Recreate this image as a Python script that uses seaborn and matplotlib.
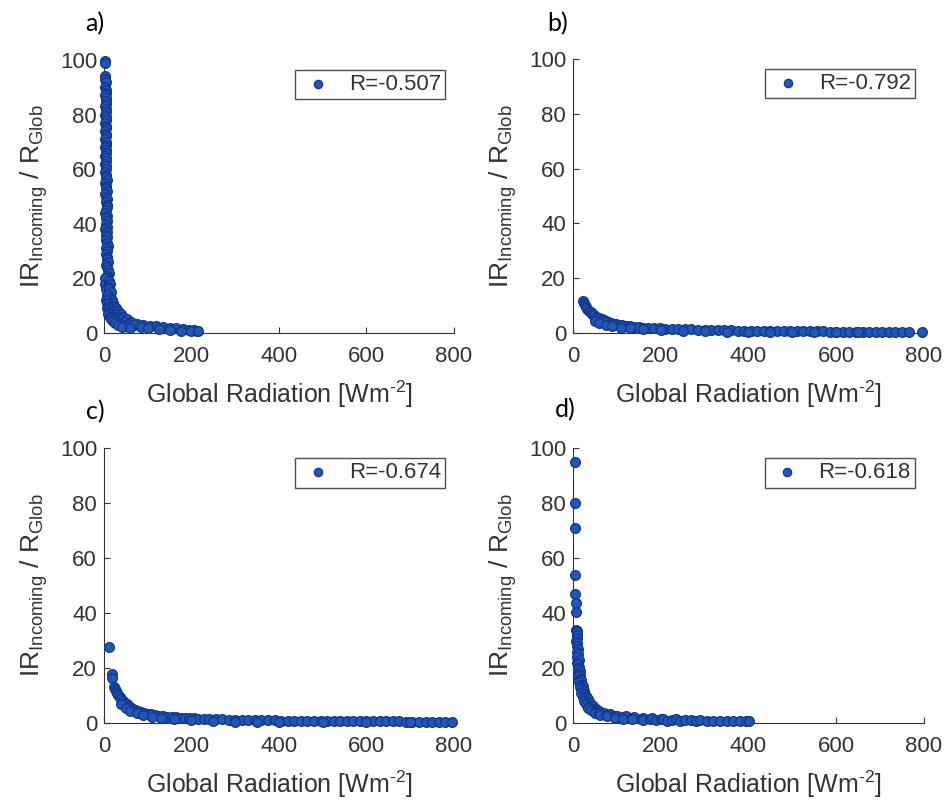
import matplotlib
matplotlib.use("Agg")
import matplotlib.pyplot as plt
import seaborn as sns
import pandas as pd

# ---- data: Global Radiation [W m^-2] vs IR_incoming / R_glob ----
a_rad = [2, 2, 3, 3, 4, 3, 4, 5, 3, 4, 5, 4, 3, 5, 4, 3, 5, 4, 3, 5, 4, 3, 5, 4, 3, 5, 4, 3, 5, 4,
         3, 5, 4, 3, 5, 4, 3, 5, 4, 6, 3, 5, 4, 6, 3, 5, 7, 4, 6, 8, 5, 3, 7, 5, 8, 4, 6, 3, 7, 5,
         8, 4, 6, 9, 5, 7, 4, 8, 6, 10, 5, 7, 9, 12, 6, 8, 2, 3, 11, 14, 9, 4, 12, 16, 6, 10, 14, 18,
         5, 8, 12, 20, 16, 24, 7, 11, 19, 28, 14, 23, 33, 10, 18, 28, 38, 13, 22, 32, 44, 17, 26, 38,
         52, 20, 31, 45, 62, 25, 38, 55, 75, 32, 48, 68, 90, 42, 60, 85, 105, 120, 100, 135, 150, 125,
         165, 180, 150, 195, 175, 205, 212, 200, 215]
a_ratio = [99.5, 99, 94, 93, 92, 90, 89, 88, 87, 86, 85, 84, 83, 82, 81, 80, 79, 78, 77, 76, 75, 74,
           73, 72, 71, 70, 69, 68, 67, 66, 65, 64, 63, 62, 61, 60, 59, 58, 57, 56, 55, 54, 53, 52, 51,
           50, 49, 48, 47, 46, 45, 44, 43, 42, 41, 40, 39, 38, 37, 36, 35, 34, 33, 32, 31, 30, 29, 28,
           27, 26, 25, 24, 23, 22, 21, 20, 20, 18, 19, 18, 17, 16, 16, 15, 14, 14, 13, 12, 12, 11, 11,
           11, 10, 10, 9, 9, 9, 9, 8, 8, 8, 7, 7, 7, 7, 6, 6, 6, 6, 5, 5, 5, 5, 4.5, 4, 4, 4, 3.5, 3.2,
           3.3, 3.3, 2.8, 2.6, 2.8, 3, 2.2, 2, 2.3, 2.7, 2.5, 1.8, 2.2, 2, 1.5, 1.7, 1.4, 1.1, 1.2, 0.9,
           1, 0.9, 0.6, 0.7]

b_rad = [22, 25, 28, 30, 33, 36, 40, 44, 48, 52, 56, 60, 65, 70, 75, 80, 86, 92, 98, 105, 112, 120,
         130, 140, 150, 160, 172, 185, 198, 210, 225, 240, 255, 270, 285, 300, 315, 330, 345, 360,
         375, 390, 405, 420, 435, 450, 465, 480, 495, 510, 525, 540, 555, 570, 585, 600, 615, 630,
         645, 660, 675, 690, 705, 720, 735, 750, 765, 795,
         50, 60, 75, 90, 110, 130, 160, 200, 250, 300, 350, 400, 450, 500, 550, 600, 650]
b_ratio = [11.5, 11, 10.2, 9.5, 8.8, 8.2, 7.5, 7, 6.5, 6, 5.6, 5.3, 5, 4.6, 4.3, 4, 3.7, 3.4, 3.2, 3,
           2.8, 2.6, 2.4, 2.2, 2.1, 2, 1.9, 1.8, 1.7, 1.6, 1.5, 1.4, 1.35, 1.3, 1.2, 1.15, 1.1, 1.05,
           1, 0.95, 0.9, 0.9, 0.85, 0.8, 0.8, 0.75, 0.7, 0.7, 0.65, 0.6, 0.6, 0.6, 0.55, 0.55, 0.5,
           0.5, 0.5, 0.45, 0.45, 0.4, 0.4, 0.4, 0.35, 0.35, 0.35, 0.3, 0.3, 0.3,
           4.5, 3.8, 3, 2.5, 2, 1.7, 1.4, 1.1, 0.8, 0.6, 0.5, 0.4, 0.3, 0.2, 0.2, 0.2, 0.2]

c_rad = [12, 18, 19, 22, 25, 28, 30, 33, 36, 40, 44, 48, 52, 56, 60, 66, 72, 78, 85, 92, 100, 108,
         116, 125, 135, 145, 155, 165, 175, 185, 195, 205, 215, 228, 240, 255, 270, 285, 300, 315,
         330, 345, 360, 375, 390, 405, 420, 435, 450, 465, 480, 495, 510, 525, 540, 555, 570, 585,
         600, 615, 630, 645, 660, 675, 690, 705, 720, 735, 750, 765, 780, 795,
         40, 50, 60, 75, 90, 110, 130, 160, 200, 250, 300, 350, 400, 500, 600, 700]
c_ratio = [27.5, 18, 16.5, 13.2, 12.5, 11.8, 11, 10.2, 9.6, 8.8, 8, 7.3, 6.8, 6.3, 5.8, 5.2, 4.8,
           4.4, 4, 3.7, 3.4, 3.1, 2.9, 2.7, 2.5, 2.3, 2.2, 2.1, 2, 1.9, 1.8, 1.7, 1.6, 1.5, 1.4, 1.35,
           1.3, 1.25, 1.2, 1.15, 1.1, 1.05, 1, 1, 0.95, 0.9, 0.9, 0.85, 0.85, 0.8, 0.8, 0.75, 0.75,
           0.7, 0.7, 0.7, 0.65, 0.65, 0.6, 0.6, 0.6, 0.55, 0.55, 0.55, 0.5, 0.5, 0.5, 0.45, 0.45, 0.4,
           0.4, 0.4,
           7, 5.5, 4.5, 3.5, 2.8, 2.2, 1.8, 1.4, 1, 0.7, 0.5, 0.4, 0.3, 0.3, 0.3, 0.3]

d_rad = [4, 4, 4, 4, 5, 6, 6, 6, 8, 10, 8, 9, 7, 10, 8, 11, 9, 12, 10, 13, 9, 12, 14, 11, 15, 13, 17,
         12, 16, 19, 14, 18, 22, 16, 20, 25, 19, 24, 29, 22, 28, 34, 26, 32, 39, 30, 37, 45, 35, 43,
         52, 42, 50, 60, 50, 60, 70, 62, 75, 85, 78, 95, 100, 95, 115, 120, 115, 135, 140, 135, 155,
         160, 160, 175, 180, 190, 200, 205, 215, 225, 235, 245, 255, 270, 280, 290, 305, 320, 335,
         350, 365, 380, 395, 402]
d_ratio = [95, 80, 70.8, 54, 47, 43.5, 40.5, 34, 33.5, 33, 32, 31, 30, 29, 28, 27, 26, 25, 24, 23,
           22, 21.5, 20.5, 19.5, 19, 18, 17.5, 17, 16, 15.5, 15, 14, 13.5, 13, 12.2, 11.8, 11, 10.5,
           10, 9.5, 9, 8.6, 8, 7.5, 7.2, 6.8, 6.3, 6.1, 5.6, 5.2, 5.1, 4.6, 4.3, 4.3, 3.8, 3.5, 3.6,
           3, 2.9, 3.1, 2.4, 2.5, 2.7, 1.9, 2.1, 2.4, 1.6, 1.8, 2.1, 1.3, 1.6, 1.9, 1.1, 1.4, 1.7, 1,
           1.3, 1.5, 0.9, 1.2, 1.3, 0.8, 1.1, 1.1, 0.8, 1, 0.9, 0.7, 0.8, 0.7, 0.8, 0.7, 0.6, 0.7]

panel_tags = ["a)", "b)", "c)", "d)"]
corr_labels = ["R=-0.507", "R=-0.792", "R=-0.674", "R=-0.618"]
x_ticks = [0, 200, 400, 600, 800]
y_ticks = [0, 20, 40, 60, 80, 100]

# ---- style ----
sns.set_theme(style="ticks")
plt.rcParams["font.family"] = ["Liberation Sans", "DejaVu Sans"]
plt.rcParams["mathtext.fontset"] = "custom"
plt.rcParams["mathtext.rm"] = "Liberation Sans"
plt.rcParams["mathtext.it"] = "Liberation Sans:italic"
plt.rcParams["mathtext.default"] = "regular"

TEXT = "#333333"
FACE = "#2158b8"
EDGE = "#13378c"

fig = plt.figure(figsize=(9.45, 8), dpi=100)
W, H = 945, 800
boxes = [(104, 60, 350, 273), (573, 59, 351, 274), (104, 448, 350, 275), (573, 448, 351, 275)]
tag_pos = [(85, 31), (547, 31), (86, 419), (555, 417)]

datasets = [(a_rad, a_ratio), (b_rad, b_ratio), (c_rad, c_ratio), (d_rad, d_ratio)]

for i, ((xs, ys), (l, t, w, h)) in enumerate(zip(datasets, boxes)):
    ax = fig.add_axes([l / W, 1 - (t + h) / H, w / W, h / H])
    df = pd.DataFrame({"rad": xs, "ratio": ys})
    sns.scatterplot(data=df, x="rad", y="ratio", ax=ax, s=48, color=FACE,
                    edgecolor=EDGE, linewidth=1.0, label=corr_labels[i], clip_on=False,
                    zorder=3)
    ax.set_xlim(0, 800)
    ax.set_ylim(0, 100)
    ax.set_xticks(x_ticks)
    ax.set_yticks(y_ticks)
    ax.tick_params(direction="in", length=4, width=0.8, colors=TEXT, labelsize=16)
    ax.tick_params(axis="x", pad=9)
    ax.tick_params(axis="y", pad=5)
    for side in ("top", "right"):
        ax.spines[side].set_visible(False)
    for side in ("left", "bottom"):
        ax.spines[side].set_color(TEXT)
        ax.spines[side].set_linewidth(0.8)
    ax.set_xlabel("Global Radiation [Wm$^{\u2010 2}$]", fontsize=18, color=TEXT, labelpad=9)
    ax.set_ylabel("IR$_{Incoming}$ / R$_{Glob}$", fontsize=19, color=TEXT, labelpad=7)
    leg = ax.legend(loc="upper right", bbox_to_anchor=(0.975, 0.965), fontsize=16,
                    frameon=True, fancybox=False, edgecolor="#222222", borderpad=0.2,
                    handletextpad=0.6, handlelength=1.6, borderaxespad=0, markerscale=0.85)
    leg.get_frame().set_linewidth(1.0)
    for txt in leg.get_texts():
        txt.set_color(TEXT)
    fig.text(tag_pos[i][0] / W, 1 - tag_pos[i][1] / H, panel_tags[i], fontsize=18,
             family=["Lato", "DejaVu Sans"], color="black", ha="left", va="baseline")

fig.savefig("out.png", dpi=100, facecolor="white")
